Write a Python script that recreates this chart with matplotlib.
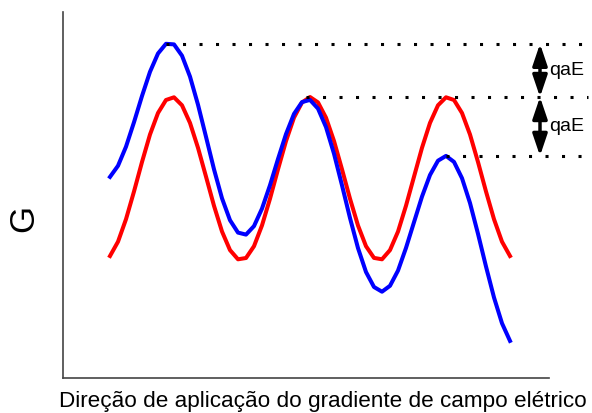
import numpy as np
import matplotlib.pyplot as plt

# horizontal position (arbitrary units along the field gradient)
pos = [110, 118, 126, 134, 142, 150, 158, 166, 174, 182, 190, 198, 206,
       214, 222, 230, 238, 246, 254, 262, 270, 278, 286, 294, 302, 310,
       318, 326, 334, 342, 350, 358, 366, 374, 382, 390, 398, 406, 414,
       422, 430, 438, 446, 454, 462, 470, 478, 486, 494, 502, 510]

# G without field (red)
g_red = [122.0, 136.3, 158.8, 186.5, 216.0, 243.5, 265.0, 278.0, 280.7,
         272.7, 255.1, 230.2, 201.4, 172.2, 146.5, 127.9, 118.7, 120.0,
         131.8, 152.6, 179.3, 208.7, 236.9, 260.4, 275.5, 281.0, 275.6,
         260.3, 237.0, 208.7, 179.3, 152.5, 131.8, 120.1, 118.7, 127.9,
         146.4, 172.3, 201.3, 230.2, 255.1, 272.7, 280.7, 278.0, 265.0,
         243.5, 216.0, 186.5, 158.8, 136.3, 122.0]

# G with applied field (blue)
g_blue = [201.1, 212.2, 231.3, 255.8, 282.0, 306.2, 324.5, 334.2, 333.6,
          322.3, 301.4, 273.3, 241.2, 208.7, 179.7, 157.8, 145.4, 143.4,
          151.9, 169.4, 192.8, 219.0, 243.9, 264.1, 275.9, 278.1, 269.4,
          250.9, 224.3, 192.7, 160.0, 129.9, 106.0, 91.0, 86.3, 92.2,
          107.4, 130.1, 155.8, 181.4, 203.0, 217.3, 222.1, 216.1, 199.8,
          175.0, 144.2, 111.5, 80.5, 54.7, 37.1]

plt.rcParams['font.family'] = ['Liberation Sans', 'DejaVu Sans']
fig = plt.figure(figsize=(5.92, 4.13), dpi=100)
ax = fig.add_axes([63 / 592, 35 / 413, 486 / 592, 366 / 413])

ax.plot(pos, g_red, color='red', lw=2.9, solid_joinstyle='round')
ax.plot(pos, g_blue, color='blue', lw=2.9, solid_joinstyle='round')

ax.set_xlim(63, 549)
ax.set_ylim(0, 366)
ax.set_xticks([])
ax.set_yticks([])
for s in ['top', 'right']:
    ax.spines[s].set_visible(False)
for s in ['left', 'bottom']:
    ax.spines[s].set_color('#444444')
    ax.spines[s].set_linewidth(1.2)

# reference levels taken from the curves
x_end = 588
i_top = int(np.argmax(g_blue))
i_mid = int(np.argmax(g_red[20:])) + 20
i_low = int(np.argmax(g_blue[36:])) + 36
levels = [(pos[i_top], g_blue[i_top]),
          (pos[i_mid] - 4, g_red[i_mid]),
          (pos[i_low], g_blue[i_low])]
for x0, lev in levels:
    ax.plot([x0, x_end], [lev, lev], color='black', lw=2.2,
            linestyle=(0, (1, 4.4)), clip_on=False)

# double arrows for the energy shift qaE
x_arr = 540
for (_, a), (_, b) in zip(levels[:-1], levels[1:]):
    ax.annotate('', xy=(x_arr, b), xytext=(x_arr, a),
                arrowprops=dict(arrowstyle='<|-|>,head_length=0.65,head_width=0.22',
                                mutation_scale=20, lw=2.5, color='black',
                                shrinkA=0, shrinkB=0),
                annotation_clip=False)
    ax.text(x_arr + 9, (a + b) / 2, 'qaE', fontsize=14, ha='left',
            va='center', clip_on=False)

fig.text(24 / 592, 1 - 218 / 413, 'G', fontsize=25, rotation=90,
         ha='center', va='center')
fig.text(323 / 592, 1 - 402 / 413, 'Direção de aplicação do gradiente de campo elétrico',
         fontsize=16.2, ha='center', va='center')

fig.savefig('out.png', dpi=100)
